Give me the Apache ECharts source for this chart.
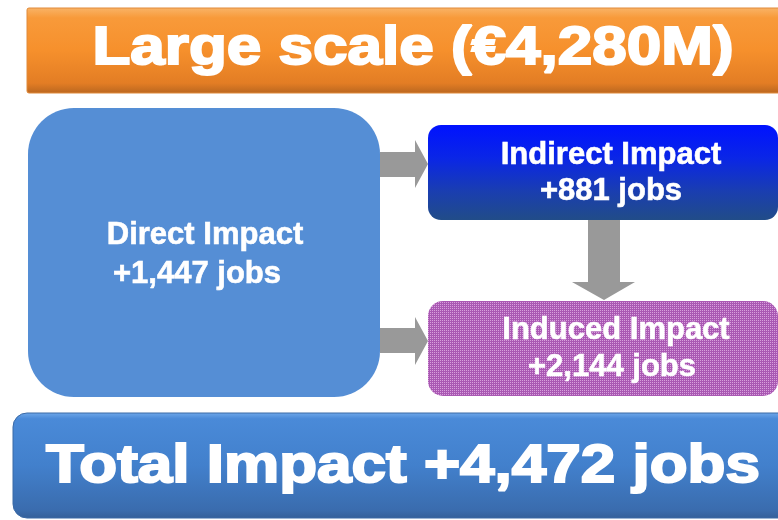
<!DOCTYPE html>
<html>
<head>
<meta charset="utf-8">
<script src="https://cdn.jsdelivr.net/npm/echarts@6/dist/echarts.min.js"></script>
<style>
  html, body { margin: 0; padding: 0; background: #fff; }
  #main { width: 778px; height: 520px; }
</style>
</head>
<body>
<div id="main"></div>
<script>
// values
var scenario = 'Large scale';
var investment = 4280; // € million
var impactNames = ['Direct Impact', 'Indirect Impact', 'Induced Impact'];
var impactJobs = [1447, 881, 2144];
var totalName = 'Total Impact';
var totalJobs = 4472;

function fmt(n) {
    return n.toLocaleString('en-US');
}

// dotted fill for the induced box
var pat = document.createElement('canvas');
pat.width = 2;
pat.height = 2;
var pctx = pat.getContext('2d');
pctx.fillStyle = '#a958b3';
pctx.fillRect(0, 0, 2, 2);
pctx.fillStyle = '#d8a0dc';
pctx.fillRect(0, 0, 1, 1);

var FONT = '"Liberation Sans", Arial, sans-serif';

function label(txt, x, y, size, sx, bold) {
    return {
        type: 'text',
        x: x, y: y,
        scaleX: sx || 1,
        z: 10,
        style: {
            text: txt,
            x: 0, y: 0,
            fill: '#fff',
            stroke: '#fff',
            lineWidth: bold || 0,
            fontFamily: FONT,
            fontWeight: 'bold',
            fontSize: size,
            align: 'center',
            verticalAlign: 'middle'
        }
    };
}

function vgrad(stops) {
    return {
        type: 'linear', x: 0, y: 0, x2: 0, y2: 1,
        colorStops: stops.map(function (s) { return { offset: s[0], color: s[1] }; })
    };
}

var arrowColor = '#999999';

var myChart = echarts.init(document.getElementById('main'));
myChart.setOption({
    backgroundColor: '#ffffff',
    graphic: [
        // title bar
        {
            type: 'rect',
            shape: { x: 27, y: 8, width: 770, height: 85, r: 2 },
            style: {
                fill: vgrad([[0, '#f9b468'], [0.12, '#f89a3a'], [0.5, '#f6902c'], [0.88, '#e37d24'], [1, '#b9661f']]),
                stroke: '#e08a3a', lineWidth: 1
            }
        },
        label(scenario + ' (€' + fmt(investment) + 'M)', 413, 49, 53, 1.17, 2),

        // direct impact
        {
            type: 'rect',
            shape: { x: 28, y: 108, width: 352, height: 289, r: 46 },
            style: { fill: '#558ed5' }
        },
        label(impactNames[0], 205, 235, 31, 1, 0.6),
        label('+' + fmt(impactJobs[0]) + ' jobs', 197, 274, 31, 1, 0.6),

        // indirect impact
        {
            type: 'rect',
            shape: { x: 428, y: 125, width: 350, height: 95, r: 13 },
            style: {
                fill: vgrad([[0, '#0012ff'], [0.35, '#0a26e6'], [0.7, '#1a3eb0'], [1, '#214c88']])
            }
        },
        label(impactNames[1], 611, 155, 31, 1, 0.6),
        label('+' + fmt(impactJobs[1]) + ' jobs', 611, 191, 31, 1, 0.6),

        // induced impact
        {
            type: 'rect',
            shape: { x: 428, y: 301, width: 350, height: 95, r: 15 },
            style: { fill: { image: pat, repeat: 'repeat' } }
        },
        label(impactNames[2], 616, 330, 31, 1, 0.6),
        label('+' + fmt(impactJobs[2]) + ' jobs', 612, 367, 31, 1, 0.6),

        // arrows
        {
            type: 'polygon',
            shape: { points: [[380, 152], [415, 152], [415, 140], [428, 164], [415, 188], [415, 177], [380, 177]] },
            style: { fill: arrowColor }
        },
        {
            type: 'polygon',
            shape: { points: [[380, 328], [415, 328], [415, 317], [428, 341], [415, 365], [415, 353], [380, 353]] },
            style: { fill: arrowColor }
        },
        {
            type: 'polygon',
            shape: { points: [[588, 220], [620, 220], [620, 282], [635, 282], [604, 300], [572, 282], [588, 282]] },
            style: { fill: arrowColor }
        },

        // total bar
        {
            type: 'rect',
            shape: { x: 13, y: 413, width: 790, height: 105, r: 14 },
            style: {
                fill: vgrad([[0, '#6fa8ea'], [0.06, '#4a8ad8'], [0.5, '#4280cc'], [0.92, '#3a6cae'], [1, '#345f98']]),
                stroke: '#3b6aa6', lineWidth: 1
            }
        },
        label(totalName + ' +' + fmt(totalJobs) + ' jobs', 403, 467, 53, 1.17, 2)
    ]
});
</script>
</body>
</html>
